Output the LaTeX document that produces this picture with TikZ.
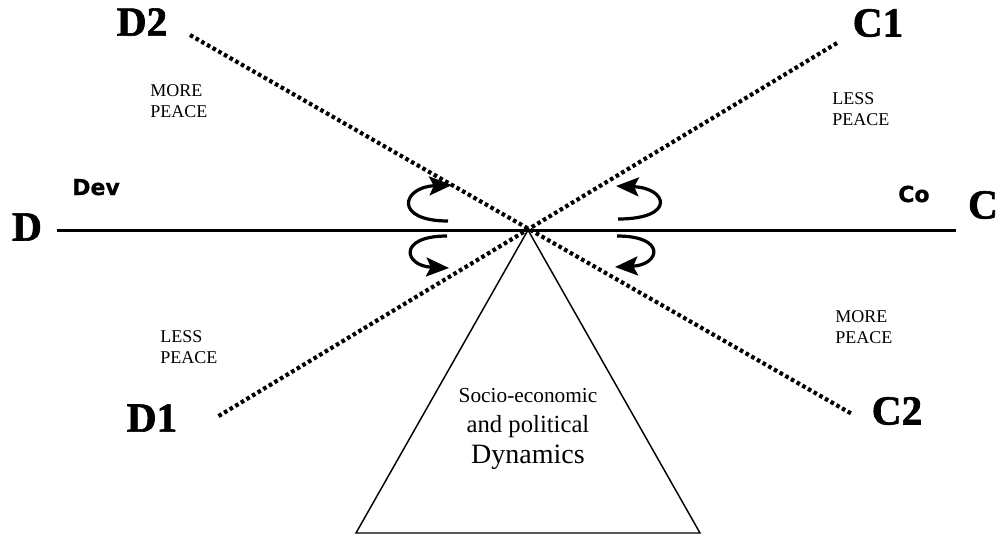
\documentclass[tikz,border=0pt]{standalone}
\usepackage{fontspec}
\setmainfont{Liberation Serif}
\newfontface\heavyfont{Liberation Serif Bold}[FakeBold=1.5]
\newfontface\sansblack{DejaVu Sans Bold}[FakeBold=0.8]
\usetikzlibrary{arrows.meta}

\begin{document}
\begin{tikzpicture}[x=0.75pt, y=-0.75pt,
  axis/.style={line width=2.25pt},
  dotline/.style={line width=3.1pt, dash pattern=on 2.7pt off 2.2pt},
  turn/.style={line width=2.4pt, -{Stealth[length=0.6cm,width=0.5cm,inset=0.12cm]}},
  pole/.style={font=\heavyfont\fontsize{31}{31}\selectfont, inner sep=0pt},
  peace/.style={font=\fontsize{13.5}{15.5}\selectfont, align=left, anchor=west, inner sep=0pt},
  tag/.style={font=\sansblack\fontsize{16.5}{16.5}\selectfont, anchor=base west, inner sep=0pt}]
\useasboundingbox (0,0) rectangle (997,537);
% end labels
\node[pole] (D) at (27,227) {D};
\node[pole] (C) at (983,205) {C};
\node[pole] (D2) at (142,22) {D2};
\node[pole] (C1) at (878,23) {C1};
\node[pole] (D1) at (152,418) {D1};
\node[pole] (C2) at (897,411) {C2};
% crossing point and line ends
\coordinate (O) at (528,230);
\coordinate (axisL) at (57,230);
\coordinate (axisR) at (956,230);
\coordinate (d2end) at (190,35);
\coordinate (c2end) at (852,414);
\coordinate (c1end) at (837,43);
\coordinate (d1end) at (217,417);
% horizontal axis
\draw[axis] (axisL) -- (axisR);
% dotted diagonals
\draw[dotline] (d2end) -- (c2end);
\draw[dotline] (c1end) -- (d1end);
% triangle
\coordinate (baseL) at (356,533);
\coordinate (baseR) at (700,533);
\draw[line width=1.1pt] (O) -- (baseL) -- (baseR) -- cycle;
% turning arrows
\coordinate (tlA) at (448,221);
\coordinate (tlB) at (452,185);
\coordinate (blA) at (447,236);
\coordinate (blB) at (449,268);
\coordinate (trA) at (618,219);
\coordinate (trB) at (616,186);
\coordinate (brA) at (617,236);
\coordinate (brB) at (615,267);
\draw[turn] (tlA) .. controls +(-55,0) and +(-50,2) .. (tlB);
\draw[turn] (blA) .. controls +(-50,0) and +(-45,-2) .. (blB);
\draw[turn] (trA) .. controls +(58,0) and +(52,2) .. (trB);
\draw[turn] (brA) .. controls +(50,0) and +(45,-2) .. (brB);
% peace labels
\node[peace] (morePeaceL) at (150,101) {MORE\\PEACE};
\node[peace] (lessPeaceR) at (832,109) {LESS\\PEACE};
\node[peace] (lessPeaceL) at (160,347) {LESS\\PEACE};
\node[peace] (morePeaceR) at (835,327) {MORE\\PEACE};
\node[tag] (dev) at (72,195) {Dev};
\node[tag] (co) at (898,202) {Co};
% dynamics
\node[font=\fontsize{16}{16}\selectfont, anchor=base] (socio) at (528,402) {Socio-economic};
\node[font=\fontsize{18.5}{18.5}\selectfont, anchor=base] (polit) at (528,432) {and political};
\node[font=\fontsize{21}{21}\selectfont, anchor=base] (dyn) at (528,463) {Dynamics};
\end{tikzpicture}
\end{document}
